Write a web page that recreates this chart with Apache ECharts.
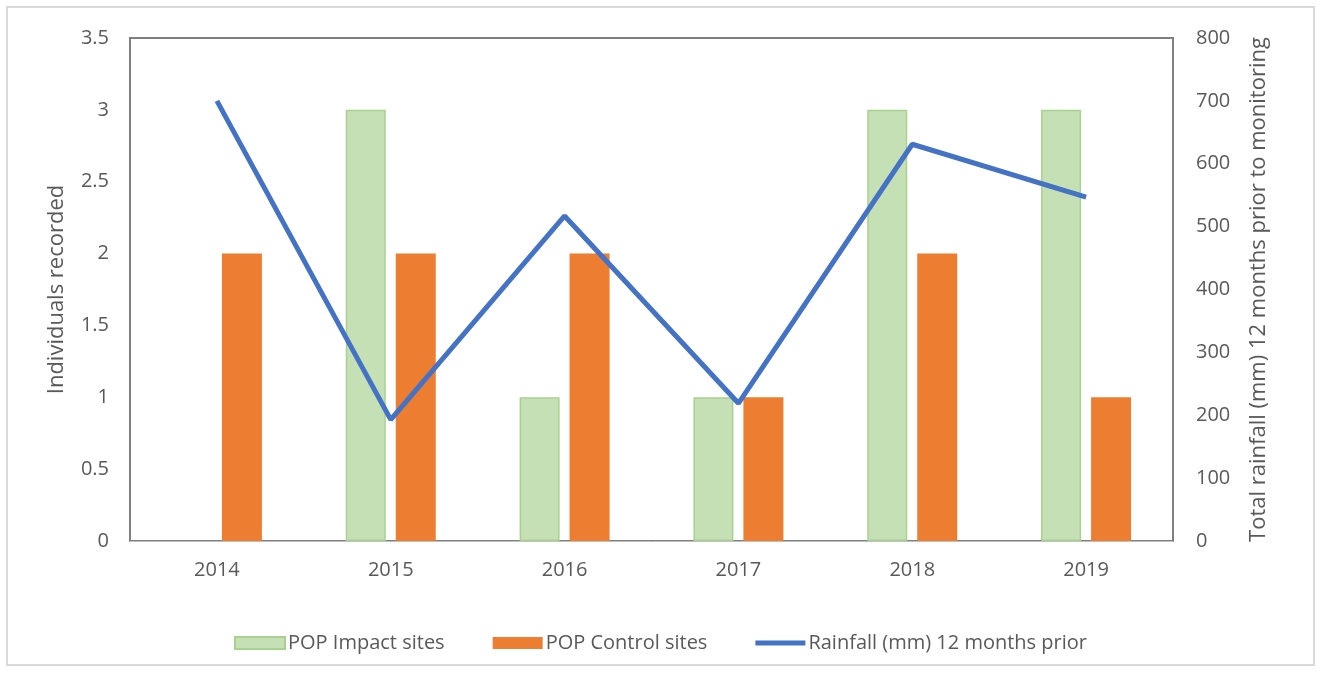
<!DOCTYPE html>
<html>
<head>
<meta charset="utf-8">
<script src="https://cdn.jsdelivr.net/npm/echarts@6/dist/echarts.min.js"></script>
<style>
  html, body { margin: 0; padding: 0; background: #fff; }
  #frame { position: absolute; left: 6px; top: 6px; width: 1309px; height: 660px; border: 2px solid #d9d9d9; box-sizing: border-box; }
  #chart { position: absolute; left: 0; top: 0; width: 1321px; height: 675px; }
</style>
</head>
<body>
<div id="frame"></div>
<div id="chart"></div>
<script>
var years = ["2014", "2015", "2016", "2017", "2018", "2019"];
var impactSites = [0, 3, 1, 1, 3, 3];
var controlSites = [2, 2, 2, 1, 2, 1];
var rainfall = [700, 193, 517, 219, 631, 547];

var FONT = "Open Sans";
var GREY = "#595959";

// zero-height bars should not leave a border line on the axis
var impactData = impactSites.map(function (v) {
  return v === 0 ? { value: v, itemStyle: { borderWidth: 0 } } : v;
});

var chart = echarts.init(document.getElementById("chart"));

chart.setOption({
  backgroundColor: "transparent",
  textStyle: { fontFamily: FONT },
  grid: { left: 130, right: 148, top: 38, bottom: 134, containLabel: false },
  legend: {
    top: 628,
    left: "center",
    itemGap: 48,
    itemWidth: 50,
    itemHeight: 12,
    symbolKeepAspect: true,
    textStyle: { fontSize: 20, color: GREY, fontFamily: FONT, padding: [0, 0, 0, -2] },
    data: [
      { name: "POP Impact sites", icon: "rect" },
      { name: "POP Control sites", icon: "rect" },
      { name: "Rainfall (mm) 12 months prior", icon: "path://M0,0 L50,0 L50,5 L0,5 Z" }
    ]
  },
  xAxis: {
    type: "category",
    data: years,
    axisLine: { lineStyle: { color: "#bfbfbf", width: 1 } },
    axisTick: { show: false },
    axisLabel: { fontSize: 20, color: GREY, margin: 19 }
  },
  yAxis: [
    {
      type: "value",
      min: 0,
      max: 3.5,
      interval: 0.5,
      name: "Individuals recorded",
      nameLocation: "middle",
      nameGap: 62,
      nameTextStyle: { fontSize: 22, color: GREY },
      axisLine: { show: true, lineStyle: { color: "#7f7f7f", width: 2 } },
      axisTick: { show: false },
      splitLine: { show: false },
      axisLabel: { fontSize: 20, color: GREY, margin: 21 }
    },
    {
      type: "value",
      min: 0,
      max: 800,
      interval: 100,
      name: "Total rainfall (mm) 12 months prior to monitoring",
      nameLocation: "middle",
      nameGap: 75,
      nameRotate: 90,
      nameTextStyle: { fontSize: 22, color: GREY },
      axisLine: { show: true, lineStyle: { color: "#7f7f7f", width: 2 } },
      axisTick: { show: false },
      splitLine: { show: false },
      axisLabel: { fontSize: 20, color: GREY, margin: 23 }
    }
  ],
  graphic: [
    {
      type: "rect",
      shape: { x: 130, y: 38, width: 1043, height: 503 },
      style: { fill: "none", stroke: "#7f7f7f", lineWidth: 2 },
      silent: true,
      z: 0
    }
  ],
  series: [
    {
      name: "POP Impact sites",
      type: "bar",
      data: impactData,
      barWidth: 40,
      barGap: "25%",
      itemStyle: { color: "#c5e0b4", borderColor: "#a9d18e", borderWidth: 1.5 }
    },
    {
      name: "POP Control sites",
      type: "bar",
      data: controlSites,
      barWidth: 40,
      itemStyle: { color: "#ed7d31" }
    },
    {
      name: "Rainfall (mm) 12 months prior",
      type: "line",
      yAxisIndex: 1,
      data: rainfall,
      symbol: "none",
      lineStyle: { color: "#4472c4", width: 5 },
      itemStyle: { color: "#4472c4" },
      z: 5
    }
  ]
});
</script>
</body>
</html>
